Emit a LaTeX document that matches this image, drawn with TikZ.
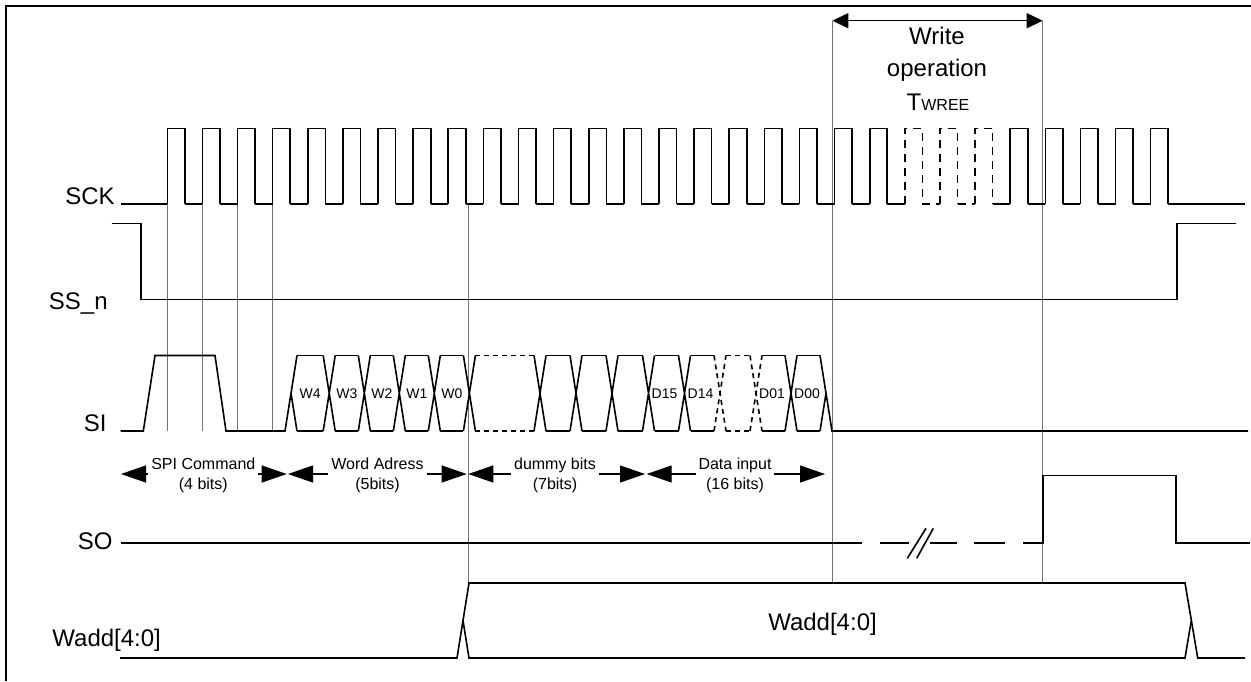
\documentclass[tikz,border=0pt]{standalone}
\usepackage{fontspec}
\setmainfont{Liberation Sans}
\usetikzlibrary{arrows.meta}

\begin{document}
\begin{tikzpicture}[x=0.5pt,y=-0.5pt,
    sig/.style={line width=0.8pt},
    clkdash/.style={dash pattern=on 4pt off 3pt},
    bitdash/.style={dash pattern=on 2.5pt off 2pt},
    guide/.style={line width=0.5pt,black!55},
    lbl/.style={font=\fontsize{12}{14}\selectfont,inner sep=0pt},
    bitlbl/.style={font=\fontsize{7}{8}\selectfont,inner sep=0pt},
    spantxt/.style={fill=white,font=\fontsize{8}{10}\selectfont,align=center,inner sep=1.5pt},
    span/.style={line width=0.6pt,{Triangle[length=12.5pt,width=8.5pt]}-{Triangle[length=12.5pt,width=8.5pt]}}]
        \useasboundingbox (0,0) rectangle (1251,681);
        \draw[line width=0.8pt] (6,681) -- (6,6) -- (1251,6);

        % signal names
        \node[lbl,anchor=base east] (sck) at (115,204) {SCK};
        \node[lbl,anchor=base east] (ssn) at (108,309) {SS\_n};
        \node[lbl,anchor=base east] (si) at (107,431) {SI};
        \node[lbl,anchor=base east] (so) at (113,549) {SO};
        \node[lbl,anchor=base west] (wadd) at (52,646) {Wadd[4:0]};

        % guide lines
        \foreach \x in {167.3,202,237.7,272.7}
            \draw[guide] (\x,204) -- (\x,431);
        \draw[guide] (468.3,204) -- (468.3,583);
        \draw[guide] (832.3,20.7) -- (832.3,583);
        \draw[guide] (1042.7,20.7) -- (1042.7,583);

        % write operation
        \coordinate (wstart) at (832.3,20.7);
        \coordinate (wend) at (1042.7,20.7);
        \draw[line width=0.6pt,{Triangle[length=8pt,width=7.5pt]}-{Triangle[length=8pt,width=7.5pt]}] (wstart) -- (wend);
        \node[lbl,anchor=base] (wr1) at (937,44.5) {Write};
        \node[lbl,anchor=base] (wr2) at (937,76) {operation};
        \node[lbl,anchor=base] (wr3) at (938,110) {T{\fontsize{8}{8}\selectfont WREE}};

        % SCK
        \draw[sig] (121,204) -- (167.3,204);
        \foreach \n in {0,...,28}{
            \pgfmathsetmacro\r{167.3+35.12*\n}
            \pgfmathsetmacro\f{\r+17.56}
            \ifnum\n>20 \ifnum\n<24 \def\dsh{clkdash}\else\def\dsh{solid}\fi\else\def\dsh{solid}\fi
            \ifnum\n>20 \ifnum\n<23 \def\lsh{clkdash}\else\def\lsh{solid}\fi\else\def\lsh{solid}\fi
            \draw[sig,\dsh] (\r,204) -- (\r,128.5) -- (\f,128.5) -- (\f,204);
            \ifnum\n<28 \draw[sig,\lsh] (\f,204) -- (\f+17.56,204); \fi
        }
        \draw[sig] (1168.2,204) -- (1245,204);

        % SS_n
        \draw[sig] (111.7,223.3) -- (141,223.3) -- (141,299.3) -- (1176.7,299.3) -- (1176.7,223.3) -- (1235.7,223.3);

        % SI
        \draw[sig] (120.7,431) -- (143.3,431) -- (155,355.5) -- (215,355.5) -- (226,431) -- (285,431) -- (297,355.5);
        \draw[sig] (291,393.25) -- (297,431);
        \foreach \c in {329.2,364.3,399.3,434.3,469.4,540,576,612,648.5,684.5,791}
            \draw[sig] (\c-6,355.5) -- (\c+6,431) (\c-6,431) -- (\c+6,355.5);
        \foreach \c in {720,756}
            \draw[sig,bitdash] (\c-6,355.5) -- (\c+6,431) (\c-6,431) -- (\c+6,355.5);
        \foreach \a/\b in {291/329.2,329.2/364.3,364.3/399.3,399.3/434.3,434.3/469.4,540/576,576/612,612/648.5,648.5/684.5,684.5/720,756/791,791/826}
            \draw[sig] (\a+6,355.5) -- (\b-6,355.5) (\a+6,431) -- (\b-6,431);
        \foreach \a/\b in {469.4/540,720/756}
            \draw[sig,bitdash] (\a+6,355.5) -- (\b-6,355.5) (\a+6,431) -- (\b-6,431);
        \draw[sig] (820,355.5) -- (832,431) -- (1248,431);
        \draw[sig] (820,431) -- (826,393.25);
        \foreach \x/\t in {310.1/W4,346.8/W3,381.8/W2,416.8/W1,451.9/W0,664.5/D15,700.5/D14,772/D01,807/D00}
            \node[bitlbl] (bit\t) at (\x,394) {\t};

        % field spans
        \coordinate (c0) at (121,474);
        \coordinate (c1) at (286.7,474);
        \coordinate (c2) at (288,474);
        \coordinate (c3) at (466.7,474);
        \coordinate (c4) at (468.3,474);
        \coordinate (c5) at (645,474);
        \coordinate (c6) at (646.7,474);
        \coordinate (c7) at (825,474);
        \draw[span] (c0) -- (c1);
        \draw[span] (c2) -- (c3);
        \draw[span] (c4) -- (c5);
        \draw[span] (c6) -- (c7);
        \node[spantxt] (spi) at (203.3,475) {SPI Command\\(4 bits)};
        \node[spantxt] (word) at (377.5,475) {Word Adress\\(5bits)};
        \node[spantxt] (dummy) at (555,475) {dummy bits\\(7bits)};
        \node[spantxt] (data) at (735,475) {Data input\\(16 bits)};

        % SO
        \draw[sig] (121,542.7) -- (862,542.7);
        \draw[sig] (880,542.7) -- (909,542.7) (930,542.7) -- (957,542.7) (974,542.7) -- (1005,542.7);
        \draw[sig] (1023,542.7) -- (1043,542.7) -- (1043,475.3) -- (1176,475.3) -- (1176,542.7) -- (1250,542.7);
        \draw[sig] (907.3,558.3) -- (926,528.3) (916.7,558.3) -- (933.3,528.3);

        % Wadd
        \draw[sig] (120,658) -- (457,658) -- (469,583) -- (1185,583) -- (1197.7,658) -- (1245,658);
        \draw[sig] (463,620.5) -- (469,658) -- (1185,658) -- (1191.3,620.5);
        \node[lbl,anchor=base] (waddval) at (822.5,630) {Wadd[4:0]};
\end{tikzpicture}
\end{document}
